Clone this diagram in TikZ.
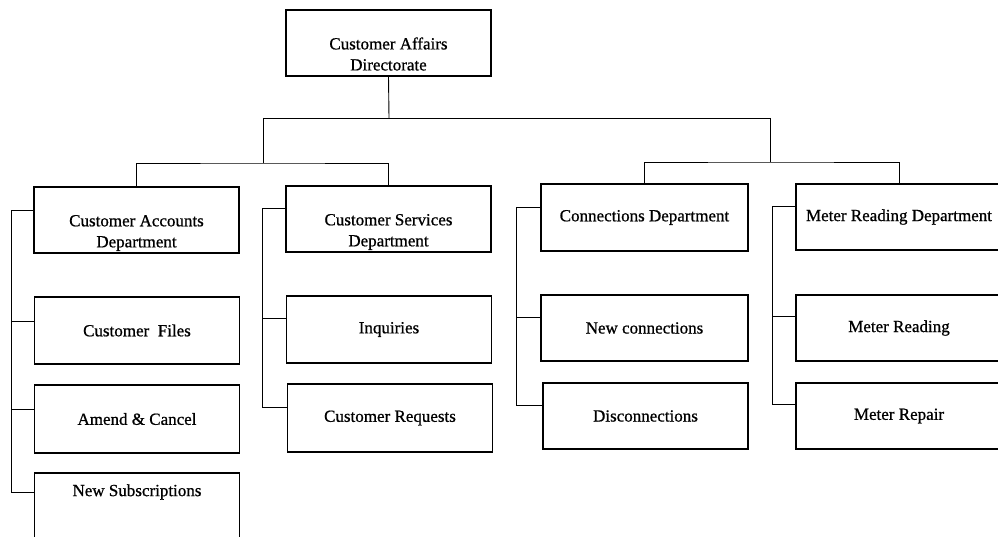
\documentclass[tikz,border=0pt]{standalone}
\usepackage{fontspec}
\setmainfont[FakeBold=0.8]{Liberation Serif}
\begin{document}
\begin{tikzpicture}[x=1pt,y=-1pt,
  orgbox/.style={draw=black,line width=1.1pt,minimum width=205pt,minimum height=66pt,
    inner sep=0pt,align=center,font=\fontsize{17}{22}\selectfont},
  lbl/.style={inner sep=0pt,align=center,font=\fontsize{17}{21}\selectfont},
  link/.style={draw=black,line width=0.9pt}]
\useasboundingbox (0,0) rectangle (998,537);
\clip (0,0) rectangle (998,537);
% boxes
\node[orgbox] (top) at (388.5,43) {};
\node[lbl] (topt) at (388.5,54) {Customer Affairs\\Directorate};
\node[orgbox] (ca) at (136.5,220) {};
\node[lbl] (cat) at (136.5,233) {Customer Accounts\\Department};
\node[orgbox,minimum height=67pt] (cf) at (137,330.5) {Customer\ \ Files};
\node[orgbox,minimum height=68pt] (am) at (137,419) {Amend \& Cancel};
\node[orgbox,minimum height=72pt] (ns) at (137,509) {};
\node[lbl] (nst) at (137,492) {New Subscriptions};
\node[orgbox] (cs) at (388.5,219) {};
\node[lbl] (cst) at (388.5,232) {Customer Services\\Department};
\node[orgbox,minimum height=67pt] (inq) at (389,329.5) {Inquiries};
\node[orgbox,minimum height=68pt] (cr) at (390,418) {Customer Requests};
\node[orgbox,minimum width=207pt,minimum height=67pt] (cd) at (644.5,217.5) {Connections Department};
\node[orgbox,minimum width=207pt] (nc) at (644.5,328) {New connections};
\node[orgbox] (dc) at (645.5,416) {Disconnections};
\node[orgbox,minimum width=206pt] (md) at (899,217) {Meter Reading Department};
\node[orgbox,minimum width=206pt] (mrd) at (899,328) {Meter Reading};
\node[orgbox,minimum width=206pt] (mrp) at (899,416) {Meter Repair};
% coordinates
\coordinate (hub) at (389,118);
\coordinate (hl) at (263,118);
\coordinate (hr) at (770,118);
\coordinate (hl2) at (263,163);
\coordinate (hr2) at (770,162);
% top level connectors
\draw[link] (top.south) -- (hub);
\draw[link] (hl) -- (hr);
\draw[link] (hl) -- (hl2);
\draw[link] (hr) -- (hr2);
\draw[link] (ca.north) |- (hl2) -| (cs.north);
\draw[link] (cd.north) |- (hr2) -| (md.north);
% brackets
\draw[link] ([yshift=10pt]ca.west) -- ++(-22,0) |- ([yshift=17pt]ns.west);
\draw[link] ([yshift=9pt]cf.west) -- ++(-22,0);
\draw[link] ([yshift=10pt]am.west) -- ++(-22,0);
\draw[link] ([yshift=11pt]cs.west) -- ++(-23,0) |- ([yshift=11pt]cr.west);
\draw[link] ([yshift=11pt]inq.west) -- ++(-24,0);
\draw[link] ([yshift=10pt]cd.west) -- ++(-24,0) |- ([yshift=11pt]dc.west);
\draw[link] ([yshift=11pt]nc.west) -- ++(-24,0);
\draw[link] ([yshift=11pt]md.west) -- ++(-23,0) |- ([yshift=12pt]mrp.west);
\draw[link] ([yshift=12pt]mrd.west) -- ++(-23,0);
\end{tikzpicture}
\end{document}
